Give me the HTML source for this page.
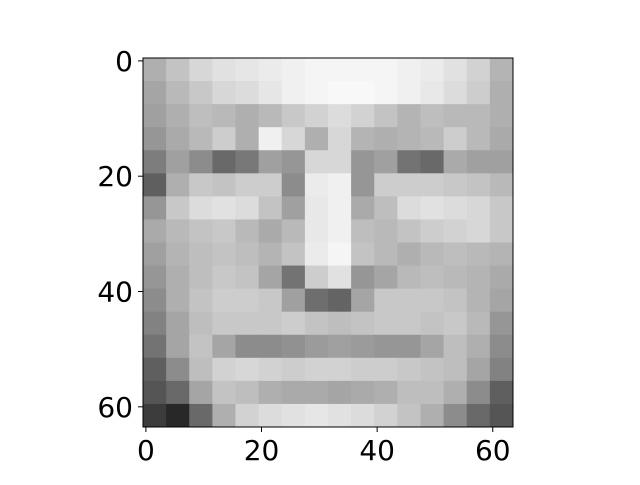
<!DOCTYPE html>
<html><head><meta charset="utf-8"><style>
body{margin:0;background:#fff}
svg text{font-family:"DejaVu Sans","Liberation Sans",sans-serif;font-size:28px;fill:#000}
</style></head><body>
<svg id="chart" width="640" height="480" xmlns="http://www.w3.org/2000/svg">
<rect width="640" height="480" fill="#fff"/>
<g id="cells"></g>
<rect x="143" y="58" width="370" height="369" fill="none" stroke="#000" stroke-width="1"/>
<g id="ticks"></g>
</svg>
<script>
const rowsGray = [
[175,195,215,225,230,235,240,245,245,245,245,240,235,225,210,180],
[165,185,200,215,220,230,240,245,248,248,245,240,232,220,205,175],
[160,175,190,185,175,185,200,210,220,210,195,180,190,185,185,175],
[150,170,185,205,175,240,215,175,215,180,175,180,185,205,185,170],
[125,160,140,105,120,160,150,215,215,150,160,115,105,170,160,160],
[95,175,200,195,205,205,140,235,240,150,205,205,205,200,195,185],
[150,200,220,225,220,195,160,232,240,170,190,220,225,220,215,200],
[170,185,195,200,185,170,185,232,240,190,185,195,205,210,215,200],
[160,180,190,195,190,180,195,235,245,195,185,175,185,190,185,180],
[150,175,190,200,195,165,115,205,225,150,165,185,190,185,180,170],
[140,175,195,205,205,200,160,110,100,165,200,200,200,195,180,165],
[130,165,190,200,200,200,205,195,190,195,200,200,195,200,185,150],
[115,165,195,165,140,140,145,155,160,155,150,150,165,190,175,140],
[95,140,190,210,215,210,205,210,210,205,205,200,195,190,165,130],
[85,105,165,195,190,175,170,170,165,170,175,190,190,175,140,95],
[60,40,105,175,210,220,225,230,225,220,210,195,175,140,105,85]
];
const xTicks = [0,20,40,60];
const yTicks = [0,20,40,60];
const blockSize = 4;
const x0=143, y0=58, W=370, H=369, N=64;
const sx = v => x0 + (v+0.5)/N*W;
const sy = v => y0 + (v+0.5)/N*H;
const NS="http://www.w3.org/2000/svg";
const cells=document.getElementById('cells');
rowsGray.forEach((row,r)=>row.forEach((g,c)=>{
  const e=document.createElementNS(NS,'rect');
  const xa=x0+c*blockSize/N*W, ya=y0+r*blockSize/N*H;
  e.setAttribute('x',xa);e.setAttribute('y',ya);
  e.setAttribute('width',blockSize/N*W+0.5);e.setAttribute('height',blockSize/N*H+0.5);
  e.setAttribute('fill',`rgb(${g},${g},${g})`);
  
  
  cells.appendChild(e);
}));
const ticks=document.getElementById('ticks');
xTicks.forEach(v=>{
  const x=sx(v);
  const l=document.createElementNS(NS,'line');
  l.setAttribute('x1',x);l.setAttribute('x2',x);l.setAttribute('y1',427);l.setAttribute('y2',432);l.setAttribute('stroke','#000');
  
  
  ticks.appendChild(l);
  const t=document.createElementNS(NS,'text');
  t.setAttribute('x',x);t.setAttribute('y',460);t.setAttribute('text-anchor','middle');t.textContent=v;
  
  
  ticks.appendChild(t);
});
yTicks.forEach(v=>{
  const y=sy(v);
  const l=document.createElementNS(NS,'line');
  l.setAttribute('x1',138);l.setAttribute('x2',143);l.setAttribute('y1',y);l.setAttribute('y2',y);l.setAttribute('stroke','#000');
  
  
  ticks.appendChild(l);
  const t=document.createElementNS(NS,'text');
  t.setAttribute('x',133);t.setAttribute('y',y+10);t.setAttribute('text-anchor','end');t.textContent=v;
  
  
  ticks.appendChild(t);
});
</script>
</body></html>
